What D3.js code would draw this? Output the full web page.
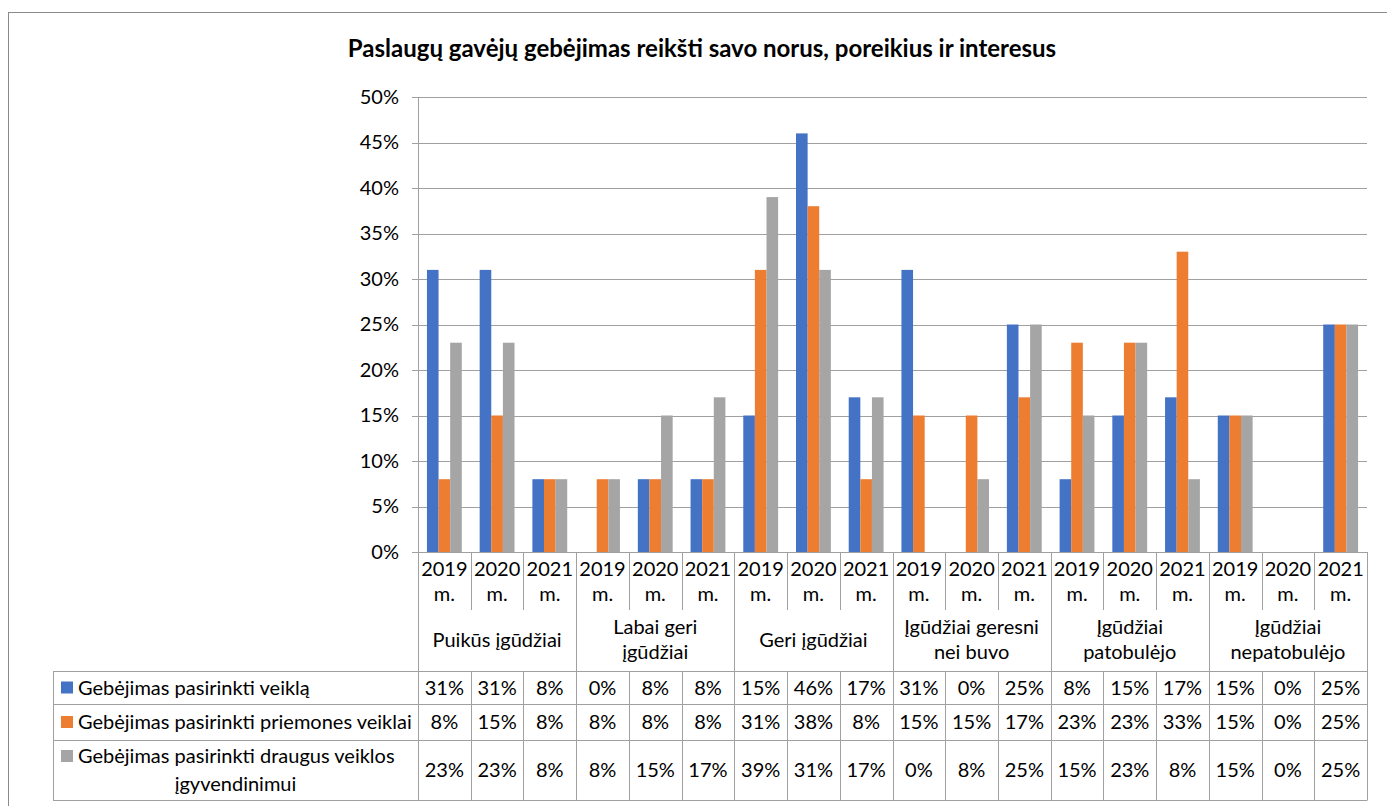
<!DOCTYPE html>
<html>
<head>
<meta charset="utf-8">
<script src="https://cdn.jsdelivr.net/npm/d3@7"></script>
<style>
  body { margin: 0; background: #fff; }
  text { font-family: Lato, "Open Sans", sans-serif; fill: #000; }
</style>
</head>
<body>
<svg width="1387" height="806"></svg>
<script>
var svg = d3.select("svg");

var title = "Paslaugų gavėjų gebėjimas reikšti savo norus, poreikius ir interesus";
var years = ["2019", "2020", "2021"];
var groups = [["Puikūs įgūdžiai"], ["Labai geri", "įgūdžiai"], ["Geri įgūdžiai"],
              ["Įgūdžiai geresni", "nei buvo"], ["Įgūdžiai", "patobulėjo"], ["Įgūdžiai", "nepatobulėjo"]];
var seriesNames = [["Gebėjimas pasirinkti veiklą"], ["Gebėjimas pasirinkti priemones veiklai"],
                   ["Gebėjimas pasirinkti draugus veiklos", "įgyvendinimui"]];
var veikla    = [31, 31, 8, 0, 8, 8, 15, 46, 17, 31, 0, 25, 8, 15, 17, 15, 0, 25];
var priemones = [8, 15, 8, 8, 8, 8, 31, 38, 8, 15, 15, 17, 23, 23, 33, 15, 0, 25];
var draugai   = [23, 23, 8, 8, 15, 17, 39, 31, 17, 0, 8, 25, 15, 23, 8, 15, 0, 25];
var yTicks = [0, 5, 10, 15, 20, 25, 30, 35, 40, 45, 50];
var colors = ["#4472c4", "#ed7d31", "#a5a5a5"];

var series = [veikla, priemones, draugai];
var line = "#a0a0a0";
var fs = 20;

var plotLeft = 418, plotRight = 1367, plotTop = 97, plotBottom = 552;
var yearRow = 610, groupRow = 671, rowEdges = [671, 704, 740, 800], legLeft = 53;

// outer frame
svg.append("rect").attr("x", 8.5).attr("y", 12.5).attr("width", 1400).attr("height", 820)
    .attr("fill", "none").attr("stroke", "#8a8a8a");

svg.append("text").attr("x", 702).attr("y", 57).attr("text-anchor", "middle")
    .style("font-weight", "bold").style("font-size", "24px").text(title);

var cells = d3.range(groups.length * years.length);
var x = d3.scaleBand().domain(cells).range([plotLeft, plotRight]);
var xs = d3.scaleBand().domain(d3.range(series.length)).range([0, x.bandwidth()]).paddingOuter(0.77);
var y = d3.scaleLinear().domain([0, 50]).range([plotBottom, plotTop]);

// gridlines
svg.append("g").selectAll("line").data(yTicks).enter().append("line")
    .attr("x1", plotLeft - 6).attr("x2", plotRight)
    .attr("y1", function(d) { return Math.round(y(d)) + 0.5; })
    .attr("y2", function(d) { return Math.round(y(d)) + 0.5; })
    .attr("stroke", line);

var yAxis = svg.append("g").attr("transform", "translate(" + plotLeft + ",0)")
    .call(d3.axisLeft(y).tickValues(yTicks).tickSize(0).tickPadding(19)
      .tickFormat(function(d) { return d + "%"; }));
yAxis.select(".domain").remove();
yAxis.selectAll("text").style("font-size", fs + "px").style("font-family", "Lato, sans-serif");

// bars
series.forEach(function(vals, s) {
  svg.append("g").selectAll("rect").data(vals).enter().append("rect")
      .attr("x", function(d, i) { return x(i) + xs(s); })
      .attr("width", xs.bandwidth())
      .attr("y", function(d) { return y(d); })
      .attr("height", function(d) { return plotBottom - y(d); })
      .attr("fill", colors[s]);
});

// axis line
svg.append("line").attr("x1", plotLeft + 0.5).attr("x2", plotLeft + 0.5)
    .attr("y1", plotTop).attr("y2", rowEdges[3]).attr("stroke", line);

// year labels and separators
var tbl = svg.append("g");
cells.forEach(function(i) {
  var cx = x(i) + x.bandwidth() / 2;
  tbl.append("text").attr("x", cx).attr("y", 576).attr("text-anchor", "middle")
      .style("font-size", fs + "px").text(years[i % years.length]);
  tbl.append("text").attr("x", cx).attr("y", 601).attr("text-anchor", "middle")
      .style("font-size", fs + "px").text("m.");
  var xe = Math.round(x(i) + x.bandwidth()) + 0.5;
  var groupEnd = (i + 1) % years.length === 0;
  tbl.append("line").attr("x1", xe).attr("x2", xe)
      .attr("y1", plotBottom).attr("y2", groupEnd ? rowEdges[3] : yearRow).attr("stroke", line);
  if (!groupEnd) {
    tbl.append("line").attr("x1", xe).attr("x2", xe)
        .attr("y1", groupRow).attr("y2", rowEdges[3]).attr("stroke", line);
  }
});

// group labels
groups.forEach(function(g, gi) {
  var cx = x(gi * years.length) + x.bandwidth() * years.length / 2;
  var y0 = g.length === 1 ? 647 : 634;
  g.forEach(function(t, li) {
    tbl.append("text").attr("x", cx).attr("y", y0 + li * 25).attr("text-anchor", "middle")
        .style("font-size", fs + "px").text(t);
  });
});

// horizontal table lines
rowEdges.forEach(function(ry) {
  tbl.append("line").attr("x1", legLeft).attr("x2", plotRight + 0.5)
      .attr("y1", ry + 0.5).attr("y2", ry + 0.5).attr("stroke", line);
});
tbl.append("line").attr("x1", legLeft + 0.5).attr("x2", legLeft + 0.5)
    .attr("y1", rowEdges[0]).attr("y2", rowEdges[3]).attr("stroke", line);

// legend rows and values
series.forEach(function(vals, s) {
  var r0 = rowEdges[s], r1 = rowEdges[s + 1];
  var cy = (r0 + r1) / 2;
  var names = seriesNames[s];
  var ly = cy - (names.length - 1) * 14;
  tbl.append("rect").attr("x", 61).attr("y", ly - 6).attr("width", 12).attr("height", 12)
      .attr("fill", colors[s]);
  names.forEach(function(t, li) {
    tbl.append("text")
        .attr("x", li === 0 ? 78 : (legLeft + plotLeft) / 2)
        .attr("y", ly + li * 28)
        .attr("dy", "0.35em")
        .attr("text-anchor", li === 0 ? "start" : "middle")
        .style("font-size", fs + "px").text(t);
  });
  tbl.selectAll(null).data(vals).enter().append("text")
      .attr("x", function(d, i) { return x(i) + x.bandwidth() / 2; })
      .attr("y", cy).attr("dy", "0.35em").attr("text-anchor", "middle")
      .style("font-size", fs + "px")
      .text(function(d) { return d + "%"; });
});
</script>
</body>
</html>
